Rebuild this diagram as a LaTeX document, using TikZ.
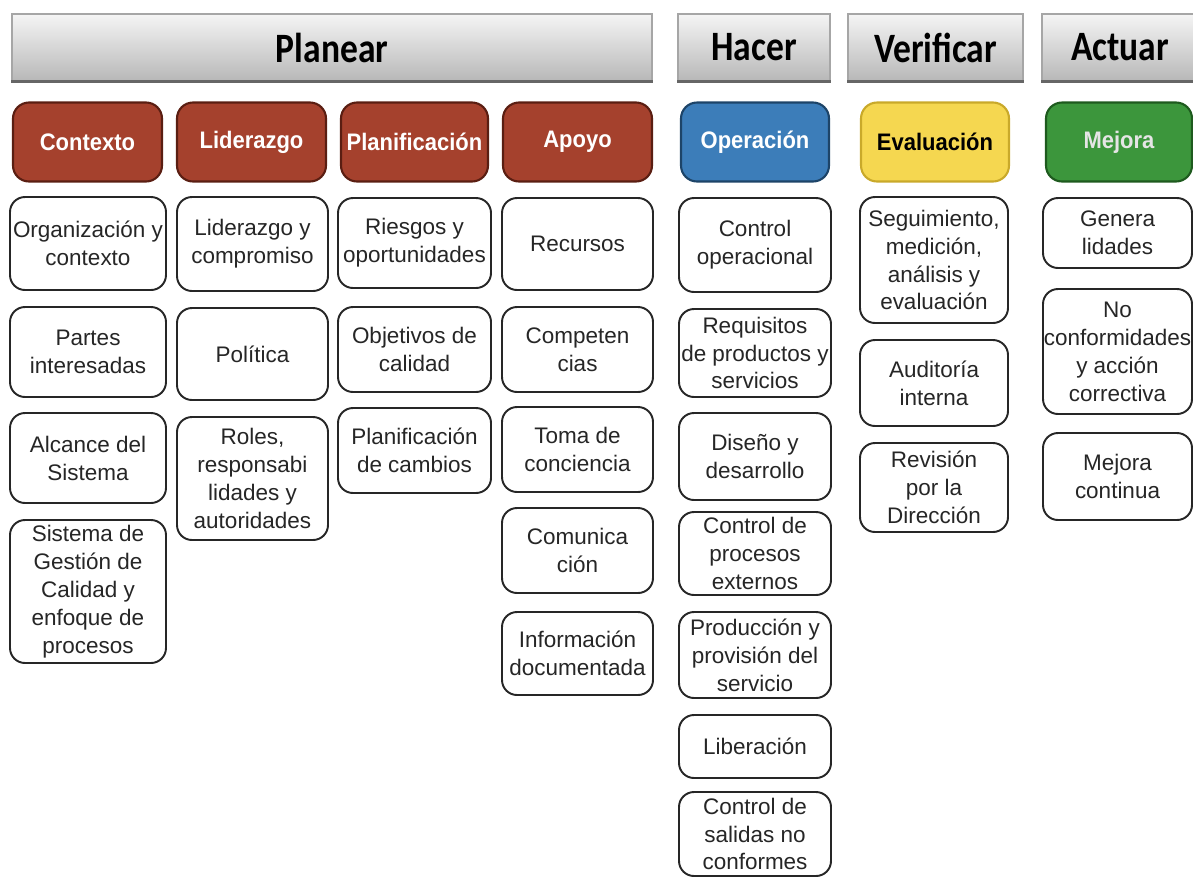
\documentclass[tikz,border=0pt]{standalone}
\usepackage{fontspec}
\setmainfont{Liberation Sans}
\newfontfamily\hdrfont[FakeStretch=0.85]{Carlito}
\newfontfamily\labfont[FakeStretch=0.92]{Liberation Sans}
\definecolor{brick}{HTML}{A5412D}
\definecolor{brickd}{HTML}{5A1E12}
\definecolor{opblue}{HTML}{3C7DB9}
\definecolor{opblued}{HTML}{1D4468}
\definecolor{evyel}{HTML}{F5D750}
\definecolor{evyeld}{HTML}{C9A92A}
\definecolor{mjgreen}{HTML}{3C963C}
\definecolor{mjgreend}{HTML}{1E5A1E}
\tikzset{
  sz/.style 2 args={minimum width=#1*0.02cm, minimum height=#2*0.02cm},
  wbox/.style={draw=black!85, line width=1.1pt, rounded corners=0.3cm, fill=white,
    align=center, inner sep=0pt, text=black!85, font=\fontsize{12.8pt}{15.9pt}\selectfont},
  cbox/.style={rounded corners=0.32cm, line width=1.2pt, inner sep=0pt,
    font=\labfont\fontsize{13.6pt}{16pt}\selectfont\bfseries},
  hbar/.style={draw=black!35, line width=0.6pt, top color=white!96!black,
    bottom color=black!28, inner sep=0pt,
    font=\hdrfont\fontsize{23.8pt}{28pt}\selectfont\bfseries},
  hline/.style={line width=1.6pt, draw=black!60}
}
\begin{document}
\begin{tikzpicture}[x=0.02cm, y=-0.02cm]
\useasboundingbox (0,0) rectangle (1193,877);
% header bars
\node[hbar, sz={640}{67}] (hp) at (332,47.5) {Planear};
\node[hbar, sz={152}{67}] (hh) at (754,47.5) {Hacer};
\node[hbar, sz={175}{67}] (hv) at (935.5,47.5) {Verificar};
\node[hbar, sz={156}{67}] (ha) at (1120,47.5) {Actuar};
\foreach \b in {hp,hh,hv,ha} \draw[hline] (\b.south west) -- (\b.south east);
% coloured boxes
\node[cbox, sz={149}{79}, fill=brick, draw=brickd, text=white] (kctx) at (87.5,142) {Contexto};
\node[cbox, sz={149}{79}, fill=brick, draw=brickd, text=white] (klid) at (251.5,142) {Liderazgo};
\node[cbox, sz={147}{79}, fill=brick, draw=brickd, text=white] (kpla) at (414.5,142) {Planificación};
\node[cbox, sz={149}{79}, fill=brick, draw=brickd, text=white] (kapo) at (577.5,142) {Apoyo};
\node[cbox, sz={148}{79}, fill=opblue, draw=opblued, text=white] (kope) at (755,142) {Operación};
\node[cbox, sz={148}{79}, fill=evyel, draw=evyeld, text=black] (keva) at (935,142) {Evaluación};
\node[cbox, sz={146}{79}, fill=mjgreen, draw=mjgreend, text=white!90!black] (kmej) at (1119,142) {Mejora};
% column 1
\node[wbox, sz={156}{93}] (a1) at (88,243.5) {Organización y\\contexto};
\node[wbox, sz={156}{90}] (a2) at (88,352) {Partes\\interesadas};
\node[wbox, sz={156}{90}] (a3) at (88,458) {Alcance del\\Sistema};
\node[wbox, sz={156}{143}] (a4) at (88,591.5) {Sistema de\\Gestión de\\Calidad y\\enfoque de\\procesos};
% column 2
\node[wbox, sz={151}{94}] (b1) at (252.5,244) {Liderazgo y\\compromiso};
\node[wbox, sz={151}{92}] (b2) at (252.5,354) {Política};
\node[wbox, sz={151}{123}] (b3) at (252.5,478.5) {Roles,\\responsabi\\lidades y\\autoridades};
% column 3
\node[wbox, sz={153}{90}] (c1) at (414.5,243) {Riesgos y\\oportunidades};
\node[wbox, sz={153}{85}] (c2) at (414.5,349.5) {Objetivos de\\calidad};
\node[wbox, sz={153}{85}] (c3) at (414.5,450.5) {Planificación\\de cambios};
% column 4
\node[wbox, sz={151}{92}] (d1) at (577.5,244) {Recursos};
\node[wbox, sz={151}{85}] (d2) at (577.5,349.5) {Competen\\cias};
\node[wbox, sz={151}{85}] (d3) at (577.5,449.5) {Toma de\\conciencia};
\node[wbox, sz={151}{85}] (d4) at (577.5,550.5) {Comunica\\ción};
\node[wbox, sz={151}{83}] (d5) at (577.5,653.5) {Información\\documentada};
% column 5
\node[wbox, sz={152}{94}] (e1) at (755,245) {Control\\operacional};
\node[wbox, sz={152}{88}] (e2) at (755,353) {Requisitos\\de productos y\\servicios};
\node[wbox, sz={152}{87}] (e3) at (755,456.5) {Diseño y\\desarrollo};
\node[wbox, sz={152}{83}] (e4) at (755,553.5) {Control de\\procesos\\externos};
\node[wbox, sz={152}{86}] (e5) at (755,655) {Producción y\\provisión del\\servicio};
\node[wbox, sz={152}{63}] (e6) at (755,746.5) {Liberación};
\node[wbox, sz={152}{84}] (e7) at (755,834) {Control de\\salidas no\\conformes};
% column 6
\node[wbox, sz={148}{126}] (f1) at (934,260) {Seguimiento,\\medición,\\análisis y\\evaluación};
\node[wbox, sz={148}{86}] (f2) at (934,383) {Auditoría\\interna};
\node[wbox, sz={148}{89}] (f3) at (934,487.5) {Revisión\\por la\\Dirección};
% column 7
\node[wbox, sz={149}{70}] (g1) at (1117.5,233) {Genera\\lidades};
\node[wbox, sz={149}{125}] (g2) at (1117.5,351.5) {No\\conformidades\\y acción\\correctiva};
\node[wbox, sz={149}{87}] (g3) at (1117.5,476.5) {Mejora\\continua};
\end{tikzpicture}
\end{document}
